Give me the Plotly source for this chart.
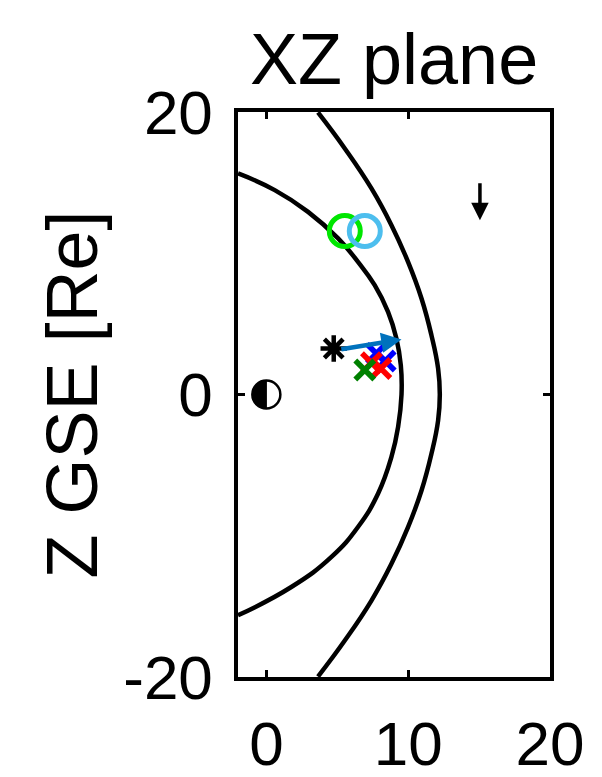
import math
import plotly.graph_objects as go

# ---- data ----
# magnetopause (inner curve)
mp_x = [-2.0, 0.59, 2.94, 5.06, 6.46, 7.64, 8.58, 9.17, 9.48, 9.53, 9.29, 8.82, 7.88, 6.46, 4.59, 1.76, -2.0]
mp_z = [15.65, 14.47, 12.93, 11.05, 9.39, 7.74, 5.85, 3.97, 2.08, 0.0, -2.29, -4.42, -7.01, -9.38, -11.5, -13.63, -15.63]
# bow shock (outer curve)
bs_x = [3.64, 5.53, 7.41, 8.82, 9.99, 10.94, 11.64, 12.11, 12.23, 12.11, 11.64, 10.94, 9.99, 8.82, 7.41, 5.53, 3.64]
bs_z = [19.97, 17.42, 14.59, 11.99, 9.39, 6.80, 4.20, 1.84, 0.0, -1.84, -4.20, -6.80, -9.39, -11.99, -14.59, -17.42, -19.97]

circle_x = [5.53, 6.94]
circle_z = [11.57, 11.57]
circle_colors = ["#00E600", "#4DBEEE"]

blue_x = [7.76, 8.38]
blue_z = [2.90, 2.37]
red_x = [7.41, 8.07]
red_z = [2.25, 1.84]
green_x = [6.94]
green_z = [1.73]

star_x = [4.75]
star_z = [3.26]

earth_x = [0.0]
earth_z = [0.0]

# arrows: (x_start, z_start, x_end, z_end)
flow_arrow = [5.18, 3.19, 9.53, 3.90]
imf_arrow = [15.06, 15.06, 15.06, 12.33]

x_ticks = [0, 10, 20]
z_ticks = [-20, 0, 20]

FONT = "Liberation Sans, Arial, sans-serif"

fig = go.Figure()

fig.add_trace(go.Scatter(x=mp_x, y=mp_z, mode="lines", line=dict(color="black", width=4.5, shape="spline", smoothing=1.3),
                         showlegend=False, hoverinfo="skip"))
fig.add_trace(go.Scatter(x=bs_x, y=bs_z, mode="lines", line=dict(color="black", width=4.5, shape="spline", smoothing=1.3),
                         showlegend=False, hoverinfo="skip"))

for cx, cz, cc in zip(circle_x, circle_z, circle_colors):
    fig.add_trace(go.Scatter(x=[cx], y=[cz], mode="markers",
                             marker=dict(symbol="circle-open", size=31, color=cc, line=dict(width=5, color=cc)),
                             showlegend=False))

for xs, zs, col in [(blue_x, blue_z, "#0000FF"), (red_x, red_z, "#FF0000"), (green_x, green_z, "#008000")]:
    fig.add_trace(go.Scatter(x=xs, y=zs, mode="markers",
                             marker=dict(symbol="x-thin-open", size=19, color=col, line=dict(width=5.5, color=col)),
                             showlegend=False))

fig.add_trace(go.Scatter(x=star_x, y=star_z, mode="markers",
                         marker=dict(symbol="asterisk-open", size=22, color="black", line=dict(width=4.5, color="black")),
                         showlegend=False))

# arrows
fig.add_annotation(x=flow_arrow[2], y=flow_arrow[3], ax=flow_arrow[0], ay=flow_arrow[1],
                   xref="x", yref="y", axref="x", ayref="y", text="", showarrow=True,
                   arrowhead=2, arrowsize=0.9, arrowwidth=4.5, arrowcolor="#0072BD")
fig.add_annotation(x=imf_arrow[2], y=imf_arrow[3], ax=imf_arrow[0], ay=imf_arrow[1],
                   xref="x", yref="y", axref="x", ayref="y", text="", showarrow=True,
                   arrowhead=2, arrowsize=1.0, arrowwidth=3.5, arrowcolor="black")

# Earth symbol (half-filled circle) anchored at data position, sized in pixels
R = 14
fig.add_shape(type="circle", xref="x", yref="y", xsizemode="pixel", ysizemode="pixel",
              xanchor=earth_x[0], yanchor=earth_z[0], x0=-R, x1=R, y0=-R, y1=R,
              line=dict(color="black", width=2.5), fillcolor="white")
pts = []
for i in range(0, 37):
    a = math.pi / 2 + math.pi * i / 36
    pts.append((R * math.cos(a), R * math.sin(a)))
path = "M " + " L ".join(f"{px:.2f},{py:.2f}" for px, py in pts) + " Z"
fig.add_shape(type="path", xref="x", yref="y", xsizemode="pixel", ysizemode="pixel",
              xanchor=earth_x[0], yanchor=earth_z[0], path=path,
              line=dict(color="black", width=1), fillcolor="black")

axis_common = dict(showline=True, linewidth=3.5, linecolor="black", mirror="ticks",
                   ticks="inside", ticklen=7, tickwidth=2.5, tickcolor="black",
                   showgrid=False, zeroline=False, automargin=False,
                   tickfont=dict(family=FONT, size=62, color="black"))

fig.update_xaxes(range=[-2, 20], tickvals=x_ticks, ticktext=[str(v) for v in x_ticks],
                 ticklabelstandoff=10, **axis_common)
fig.update_yaxes(range=[-20, 20], tickvals=z_ticks, ticktext=[str(v) for v in z_ticks],
                 ticklabelstandoff=9, **axis_common)

fig.add_annotation(text="Z GSE [Re]", xref="paper", yref="paper", x=-0.535, y=0.5,
                   xanchor="center", yanchor="middle", textangle=-90, showarrow=False,
                   font=dict(family=FONT, size=72, color="black"))
fig.add_annotation(text="XZ plane", xref="paper", yref="paper", x=0.5, y=1.0,
                   xanchor="center", yanchor="bottom", yshift=11, showarrow=False,
                   font=dict(family=FONT, size=72, color="black"))

# the page places the figure 8 px in from the top-left corner, so the figure is
# sized to the visible window and margins are set so the axes box lands where it should
fig.update_layout(width=594, height=769, margin=dict(l=229.5, r=52, t=104, b=100, autoexpand=False),
                  paper_bgcolor="white", plot_bgcolor="white", showlegend=False)

fig.write_html("out.html")
